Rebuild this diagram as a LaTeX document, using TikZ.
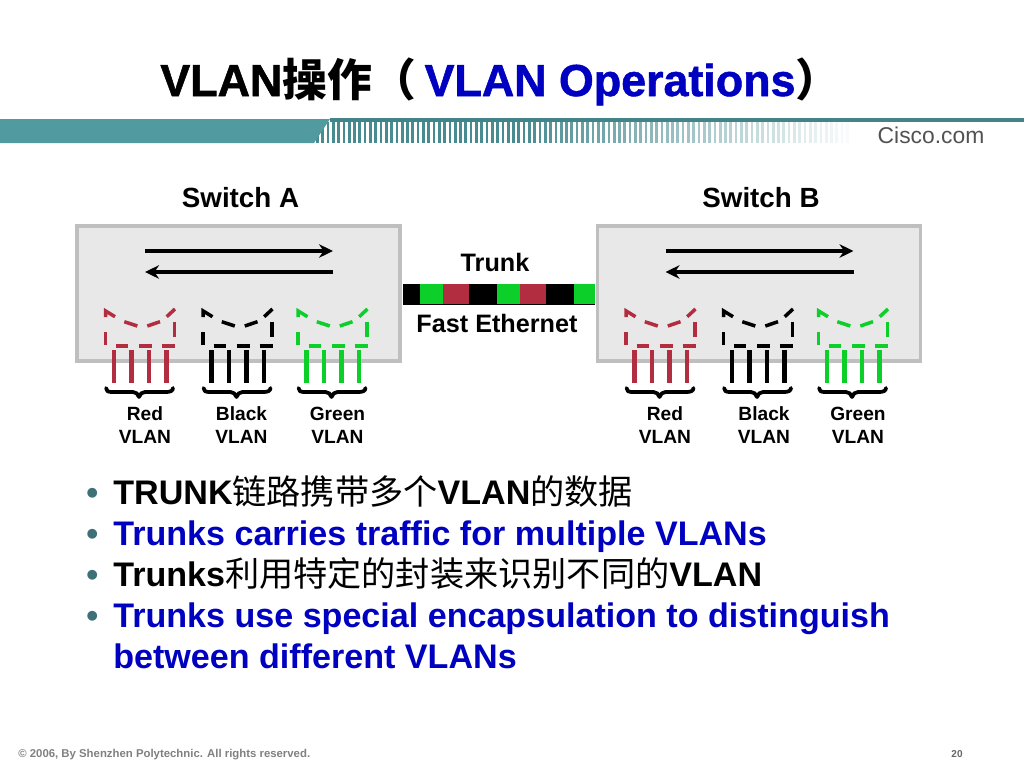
\documentclass[tikz,border=0pt]{standalone}
\usepackage{fontspec}
\setmainfont{Liberation Sans}
\newfontfamily\titlefont[BoldFeatures={FakeBold=1.2}]{Liberation Sans}
\newfontfamily\cjk{Noto Sans CJK SC}
\newfontfamily\cjkbold{Noto Sans CJK SC Bold}
\usetikzlibrary{arrows.meta}

\definecolor{vlanred}{RGB}{178,45,63}
\definecolor{vlangreen}{RGB}{12,207,42}
\definecolor{vlanblack}{RGB}{0,0,0}
\definecolor{bluetext}{RGB}{0,0,192}
\definecolor{bandteal}{RGB}{80,154,160}
\definecolor{bulletteal}{RGB}{62,112,120}

% body text in Chinese is a little wider than the latin size
\newcommand{\cjkbody}[1]{{\cjk\mdseries\fontsize{19.45}{23}\selectfont #1}}

\tikzset{
    switchbox/.style={draw=black!25, fill=black!9, line width=0.074cm, minimum width=6.46cm, minimum height=2.7cm, inner sep=0},
    flowline/.style={line width=0.09cm, -{Stealth[length=0.28cm,width=0.27cm]}},
    dashpart/.style={line width=0.07cm},
    portline/.style={line width=0.09cm},
    bracepart/.style={line width=0.075cm, line join=round, line cap=round},
    swlabel/.style={font=\fontsize{15.8}{18}\selectfont\bfseries, inner sep=0},
    trunklabel/.style={font=\fontsize{14.35}{17}\selectfont\bfseries, inner sep=0},
    vlanlabel/.style={font=\fontsize{10.9}{13.1}\selectfont\bfseries, align=center, inner sep=0},
    bodytext/.style={font=\fontsize{19.4}{23}\selectfont\bfseries, anchor=base west, inner sep=0},
    bulletmark/.style={font=\fontsize{19.4}{23}\selectfont\bfseries, anchor=base west, inner sep=0, text=bulletteal}
}

% one VLAN: dashed cup, four ports, brace
\newcommand{\vlangroup}[2]{
    \begin{scope}[shift={(#1,0)}, #2]
        \draw[dashpart] (0.7,345) -- (0.7,332);
        \draw[dashpart] (0.7,317) -- (0.7,311) -- (10,316.7);
        \draw[dashpart] (19.3,321.7) -- (32.3,326);
        \draw[dashpart] (42.3,326) -- (55,321.7);
        \draw[dashpart] (61.7,316.7) -- (70,309);
        \draw[dashpart] (69.3,321.7) -- (69.3,336.7);
        \draw[dashpart] (11,346) -- (23,346);
        \draw[dashpart] (34,346) -- (47,346);
        \draw[dashpart] (57,346) -- (70,346);
        \draw[portline] (9,350) -- (9,383);
        \draw[portline] (26.4,350) -- (26.4,383);
        \draw[portline] (44,350) -- (44,383);
        \draw[portline] (61.4,350) -- (61.4,383);
    \end{scope}
    \begin{scope}[shift={(#1,0)}]
        \draw[bracepart] (1,388) .. controls (1,391) and (3,392) .. (7,392) -- (28,392) .. controls (31,392) and (33,394) .. (34,397) .. controls (35,394) and (37,392) .. (40,392) -- (61,392) .. controls (65,392) and (68,391) .. (68,388);
    \end{scope}
}

\begin{document}
\begin{tikzpicture}[x=0.02cm, y=-0.02cm]
    \useasboundingbox (0,0) rectangle (1024,768);

    % Title
    \node[anchor=base west, inner sep=0, font=\fontsize{25.5}{30}\selectfont\titlefont\bfseries] (title) at (160,96)
        {VLAN{\cjkbold 操作（}\hspace{4.5pt}\textcolor{bluetext}{VLAN Operations}{\cjkbold ）}};

    % Band
    \foreach \sx in {316,321.3,...,850} {
        \pgfmathsetmacro{\fade}{min(100,(860-\sx)/3.4)}
        \fill[bandteal!90!black, opacity=\fade/100] (\sx,122) rectangle (\sx+2.7,143);
    }
    \fill[bandteal] (0,119) -- (330,119) -- (314,143) -- (0,143) -- cycle;
    \fill[bandteal!85!black] (330,118) rectangle (1024,122);
    \node[inner sep=0, text=black!68, font=\fontsize{13}{15}\selectfont] (cisco) at (931,135) {Cisco.com};

    % Switch A
    \node[switchbox] (swA) at (238.5,293.5) {};
    \node[swlabel] (swAlabel) at (240.5,198) {Switch A};
    \coordinate (aUpL) at (145,251);
    \coordinate (aUpR) at (333,251);
    \coordinate (aLowL) at (145,272);
    \coordinate (aLowR) at (333,272);
    \draw[flowline] (aUpL) -- (aUpR);
    \draw[flowline] (aLowR) -- (aLowL);
    \vlangroup{105}{vlanred}
    \vlangroup{202.5}{vlanblack}
    \vlangroup{297.5}{vlangreen}
    \node[vlanlabel] (redA) at (145,425) {Red\\VLAN};
    \node[vlanlabel] (blackA) at (241.5,425) {Black\\VLAN};
    \node[vlanlabel] (greenA) at (337.5,425) {Green\\VLAN};

    % Switch B
    \node[switchbox] (swB) at (759,293.5) {};
    \node[swlabel] (swBlabel) at (761,198) {Switch B};
    \coordinate (bUpL) at (665.5,251);
    \coordinate (bUpR) at (853.5,251);
    \coordinate (bLowL) at (665.5,272);
    \coordinate (bLowR) at (853.5,272);
    \draw[flowline] (bUpL) -- (bUpR);
    \draw[flowline] (bLowR) -- (bLowL);
    \vlangroup{625.5}{vlanred}
    \vlangroup{723}{vlanblack}
    \vlangroup{818}{vlangreen}
    \node[vlanlabel] (redB) at (665,425) {Red\\VLAN};
    \node[vlanlabel] (blackB) at (764,425) {Black\\VLAN};
    \node[vlanlabel] (greenB) at (858,425) {Green\\VLAN};

    % Trunk
    \node[trunklabel] (trunk) at (495,262) {Trunk};
    \node[trunklabel] (ether) at (497,323) {Fast Ethernet};
    \fill[black] (403,284) rectangle (420,305);
    \fill[vlangreen] (420,284) rectangle (443,304);
    \fill[vlanred] (443,284) rectangle (469,304);
    \fill[black] (469,284) rectangle (497,305);
    \fill[vlangreen] (497,284) rectangle (520,304);
    \fill[vlanred] (520,284) rectangle (546,304);
    \fill[black] (546,284) rectangle (574,305);
    \fill[vlangreen] (574,284) rectangle (595,304);
    \fill[black] (403,304) rectangle (595,305);

    % Bullets
    \node[bulletmark] (dot1) at (86,504) {•};
    \node[bodytext] (line1) at (113,504) {TRUNK\cjkbody{链路携带多个}VLAN\cjkbody{的数据}};
    \node[bulletmark] (dot2) at (86,545) {•};
    \node[bodytext, text=bluetext] (line2) at (113,545) {Trunks carries traffic for multiple VLANs};
    \node[bulletmark] (dot3) at (86,586) {•};
    \node[bodytext] (line3) at (113,586) {Trunks\cjkbody{利用特定的封装来识别不同的}VLAN};
    \node[bulletmark] (dot4) at (86,627) {•};
    \node[bodytext, text=bluetext] (line4) at (113,627) {Trunks use special encapsulation to distinguish};
    \node[bodytext, text=bluetext] (line5) at (113,668) {between different VLANs};

    % Footer
    \node[anchor=base west, inner sep=0, text=black!50, font=\fontsize{6.47}{8}\selectfont\bfseries] (copyright) at (18,757) {© 2006, By Shenzhen Polytechnic. All rights reserved.};
    \node[inner sep=0, text=black!60, font=\fontsize{5.7}{7}\selectfont\bfseries] (pagenum) at (957,754) {20};

\end{tikzpicture}
\end{document}
